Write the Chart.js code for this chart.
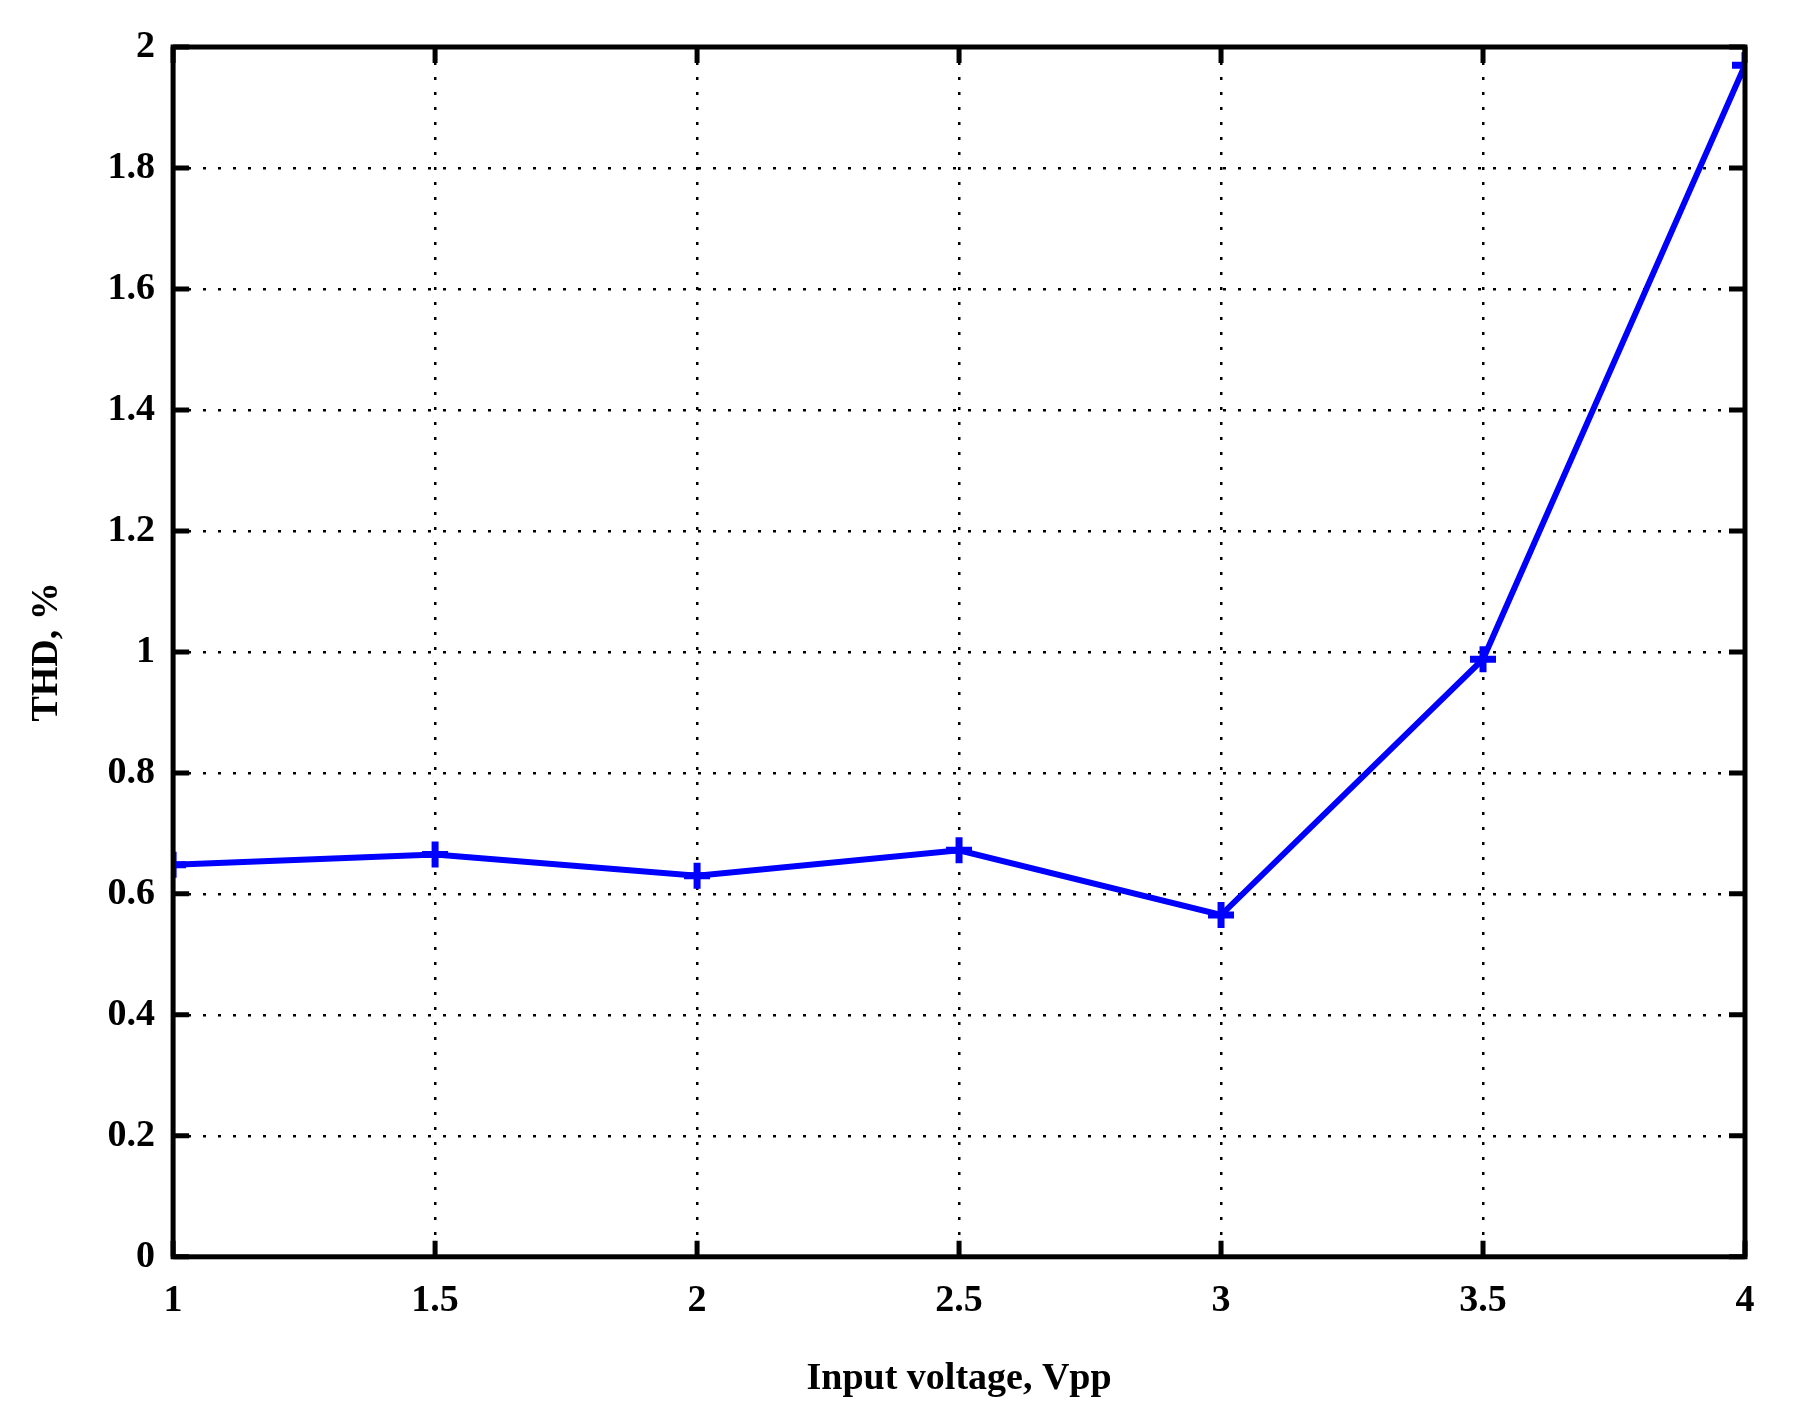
<!DOCTYPE html>
<html><head><script src="https://cdn.jsdelivr.net/npm/chart.js@4"></script>
<style>html,body{margin:0;background:#fff}#w{width:1794px;height:1426px}</style></head>
<body><div id="w"><canvas id="c"></canvas></div>
<script>
const xValues=[1,1.5,2,2.5,3,3.5,4];
const thd=[0.648,0.665,0.630,0.672,0.565,0.988,1.97];
const xTicks=[1,1.5,2,2.5,3,3.5,4];
const yTicks=[0,0.2,0.4,0.6,0.8,1,1.2,1.4,1.6,1.8,2];
const font={family:'Liberation Serif',weight:'bold',size:38};
const frame={id:'frame',afterDraw(ch){const a=ch.chartArea,x=ch.ctx;x.save();x.strokeStyle='#000';x.lineWidth=5;
x.beginPath();
ch.scales.x.ticks.forEach(t=>{const p=ch.scales.x.getPixelForValue(t.value);x.moveTo(p,a.bottom);x.lineTo(p,a.bottom-16);x.moveTo(p,a.top);x.lineTo(p,a.top+16);});
ch.scales.y.ticks.forEach(t=>{const p=ch.scales.y.getPixelForValue(t.value);x.moveTo(a.left,p);x.lineTo(a.left+16,p);x.moveTo(a.right,p);x.lineTo(a.right-16,p);});
x.stroke();x.strokeRect(a.left,a.top,a.right-a.left,a.bottom-a.top);x.restore();}};
new Chart(document.getElementById('c'),{type:'line',
data:{datasets:[{data:xValues.map((v,i)=>({x:v,y:thd[i]})),borderColor:'#0000ff',backgroundColor:'#0000ff',borderWidth:6,
pointStyle:'cross',pointRadius:13,pointBorderWidth:7,pointBorderColor:'#0000ff',tension:0}]},
options:{responsive:true,maintainAspectRatio:false,animation:false,
layout:{padding:{top:47,right:49,bottom:20,left:20}},
plugins:{legend:{display:false},tooltip:{enabled:false}},
scales:{
x:{type:'linear',min:1,max:4,afterBuildTicks(s){s.ticks=xTicks.map(v=>({value:v}));},
grid:{color:'#000',lineWidth:2.5,tickLength:0,drawTicks:false},border:{display:false,dash:[3,12]},
ticks:{color:'#000',font,padding:22,callback:v=>String(v)},
title:{display:true,text:'Input voltage, Vpp',color:'#000',font,padding:{top:10}}},
y:{min:0,max:2,afterBuildTicks(s){s.ticks=yTicks.map(v=>({value:v}));},
grid:{color:'#000',lineWidth:2.5,drawTicks:false},border:{display:false,dash:[3,12]},
ticks:{color:'#000',font,padding:18,callback:v=>String(v)},
title:{display:true,text:'THD, %',color:'#000',font,padding:{bottom:20}}}}},
plugins:[frame]});
</script></body></html>
